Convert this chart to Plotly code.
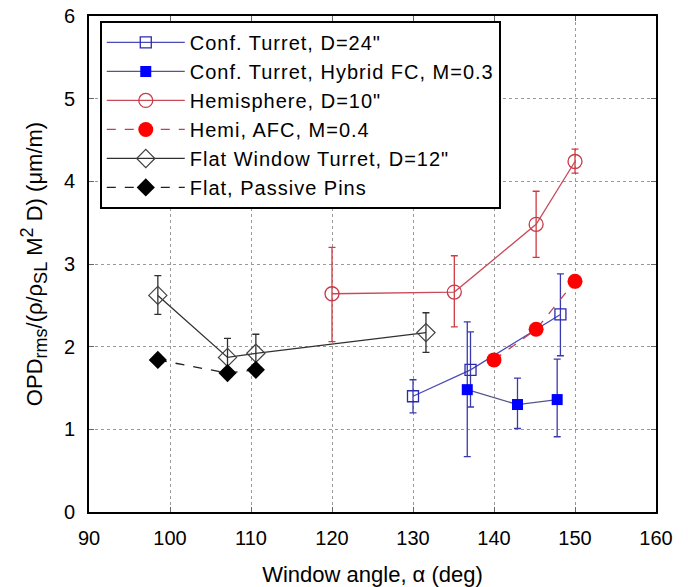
import plotly.graph_objects as go

# Data
conf_x = [130.0, 137.1, 148.2]
conf_y = [1.40, 1.72, 2.39]
conf_hi = [1.60, 2.18, 2.88]
conf_lo = [1.20, 1.27, 1.89]

hyb_x = [136.7, 142.9, 147.8]
hyb_y = [1.48, 1.30, 1.36]
hyb_hi = [2.30, 1.62, 1.85]
hyb_lo = [0.67, 1.01, 0.91]

hemi_x = [120.0, 135.1, 145.2, 150.0]
hemi_y = [2.64, 2.66, 3.48, 4.24]
hemi_hi = [3.20, 3.10, 3.88, 4.39]
hemi_lo = [2.06, 2.24, 3.08, 4.10]

afc_x = [140.0, 145.2, 150.0]
afc_y = [1.84, 2.21, 2.79]

flat_x = [98.5, 107.1, 110.6, 131.6]
flat_y = [2.62, 1.87, 1.92, 2.17]
flat_hi = [2.86, 2.10, 2.15, 2.41]
flat_lo = [2.39, 1.64, 1.69, 1.93]

pins_x = [98.5, 107.1, 110.6]
pins_y = [1.84, 1.68, 1.72]

x_ticks = [90, 100, 110, 120, 130, 140, 150, 160]
y_ticks = [0, 1, 2, 3, 4, 5, 6]


def err(y, hi, lo, color):
    return dict(type="data", symmetric=False,
                array=[h - v for h, v in zip(hi, y)],
                arrayminus=[v - l for v, l in zip(y, lo)],
                color=color, thickness=1.3, width=3.5)


def lg(name):
    return "<span style='letter-spacing:1px'>" + name + "</span>"


fig = go.Figure()
fig.add_trace(go.Scatter(x=conf_x, y=conf_y, name=lg("Conf. Turret, D=24\""),
                         mode="lines+markers",
                         line=dict(color="#4a4ab8", width=1.3),
                         marker=dict(symbol="square-open", size=11, color="#2a2ab0", line=dict(width=1.3)),
                         error_y=err(conf_y, conf_hi, conf_lo, "#3a3ab0")))
fig.add_trace(go.Scatter(x=hyb_x, y=hyb_y, name=lg("Conf. Turret, Hybrid FC, M=0.3"),
                         mode="lines+markers",
                         line=dict(color="#55558a", width=1.3),
                         marker=dict(symbol="square", size=11, color="#0000ff"),
                         error_y=err(hyb_y, hyb_hi, hyb_lo, "#3a3ab0")))
fig.add_trace(go.Scatter(x=hemi_x, y=hemi_y, name=lg("Hemisphere, D=10\""),
                         mode="lines+markers",
                         line=dict(color="#c84a58", width=1.3),
                         marker=dict(symbol="circle-open", size=14, color="#c83a48", line=dict(width=1.3)),
                         error_y=err(hemi_y, hemi_hi, hemi_lo, "#d03a40")))
fig.add_trace(go.Scatter(x=afc_x, y=afc_y, name=lg("Hemi, AFC, M=0.4"),
                         mode="lines+markers",
                         line=dict(color="#c04050", width=1.3, dash="dash"),
                         marker=dict(symbol="circle", size=15, color="#ff0000")))
fig.add_trace(go.Scatter(x=flat_x, y=flat_y, name=lg("Flat Window Turret, D=12\""),
                         mode="lines+markers",
                         line=dict(color="#303030", width=1.3),
                         marker=dict(symbol="diamond-open", size=14, color="#404040", line=dict(width=1.2)),
                         error_y=err(flat_y, flat_hi, flat_lo, "#303030")))
fig.add_trace(go.Scatter(x=pins_x, y=pins_y, name=lg("Flat, Passive Pins"),
                         mode="lines+markers",
                         line=dict(color="#202020", width=1.3, dash="dash"),
                         marker=dict(symbol="diamond", size=14, color="#000000")))

axis_common = dict(showline=True, linecolor="black", linewidth=2, mirror="ticks",
                   ticks="inside", ticklen=5, tickcolor="#666", automargin=False,
                   showgrid=True, gridcolor="#9a9a9a", griddash="dot", gridwidth=1,
                   zeroline=False, tickfont=dict(size=20, color="black"))

fig.update_xaxes(range=[90, 160], tickvals=x_ticks, ticktext=[str(v) for v in x_ticks],
                 ticklabelstandoff=7,
                 title=dict(text="Window angle, α (deg)", font=dict(size=22, color="black"), standoff=20),
                 **axis_common)
fig.update_yaxes(range=[0, 6], tickvals=y_ticks, ticktext=[str(v) for v in y_ticks],
                 ticklabelstandoff=8,
                 title=dict(text="OPD<sub><span style='font-size:18px'>rms</span></sub>"
                                 "/(ρ/ρ<sub><span style='font-size:18px'>SL</span></sub>"
                                 " M<sup><span style='font-size:18px'>2</span></sup> D) (μm/m)",
                            font=dict(size=22, color="black"), standoff=15),
                 **axis_common)

fig.update_layout(
    width=688, height=587,
    margin=dict(l=89, r=32, t=16, b=75),
    paper_bgcolor="white", plot_bgcolor="white",
    font=dict(family="Liberation Sans, Arial, sans-serif", size=20, color="black"),
    showlegend=True,
    legend=dict(x=0.019, y=0.99, xanchor="left", yanchor="top",
                bgcolor="white", bordercolor="black", borderwidth=2,
                font=dict(size=20, color="black"), itemwidth=78,
                tracegroupgap=0),
)

fig.write_html("out.html")
